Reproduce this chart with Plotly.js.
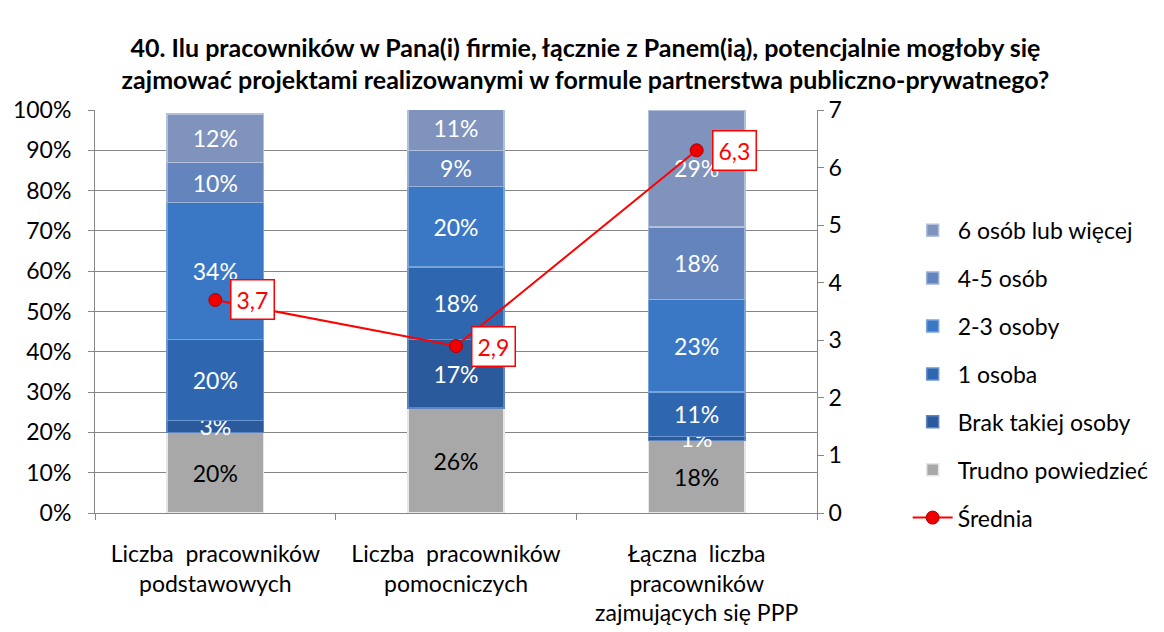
<!DOCTYPE html>
<html>
<head>
<meta charset="utf-8">
<script src="https://cdn.plot.ly/plotly-3.0.1.min.js"></script>
<style>html,body{margin:0;padding:0;background:#fff;}#chart{width:1164px;height:632px;}</style>
</head>
<body>
<div id="chart"></div>
<script>
const categories = ["Liczba  pracowników<br>podstawowych", "Liczba  pracowników<br>pomocniczych", "Łączna  liczba<br>pracowników<br>zajmujących się PPP"];
const seriesNames = ["Trudno powiedzieć", "Brak takiej osoby", "1 osoba", "2-3 osoby", "4-5 osób", "6 osób lub więcej"];
const trudno = [20, 26, 18];
const brak = [3, 17, 1];
const jedna = [20, 18, 11];
const dwieTrzy = [34, 20, 23];
const czteryPiec = [10, 9, 18];
const szescPlus = [12, 11, 29];
const srednia = [3.7, 2.9, 6.3];
const sredniaLabels = ["3,7", "2,9", "6,3"];

const seriesValues = [trudno, brak, jedna, dwieTrzy, czteryPiec, szescPlus];
const colors = ["#a8a8a8", "#2b5a9c", "#2f66b0", "#3a78c6", "#6384bd", "#8093bd"];
const lineColors = ["#e6e6e6", "#5d86c0", "#6a95d0", "#78a4dc", "#9ab2d8", "#b2c0dc"];
const textColors = ["#000000", "#ffffff", "#ffffff", "#ffffff", "#ffffff", "#ffffff"];

const FONT = "Lato, 'Open Sans', sans-serif";
const FS = 23;

const data = [];
seriesValues.forEach((vals, i) => {
  data.push({
    type: "bar",
    name: seriesNames[i],
    x: categories,
    y: vals,
    text: vals.map(v => v + "%"),
    textposition: "inside",
    insidetextanchor: "middle",
    constraintext: "none",
    textangle: 0,
    textfont: {family: FONT, size: FS, color: textColors[i]},
    marker: {color: colors[i], line: {color: lineColors[i], width: 1.5}},
    legendgroup: "g" + i,
    legendrank: 6 - i,
    hoverinfo: "skip"
  });
});
data.push({
  type: "scatter",
  mode: "lines+markers",
  name: "Średnia",
  x: categories,
  y: srednia,
  yaxis: "y2",
  line: {color: "#ff0000", width: 2},
  marker: {color: "#ee0000", size: 13, line: {color: "#b00000", width: 1}},
  legendgroup: "g7",
  legendrank: 7,
  hoverinfo: "skip"
});

const annotations = srednia.map((v, i) => ({
  x: categories[i],
  y: v,
  xref: "x",
  yref: "y2",
  text: sredniaLabels[i],
  showarrow: false,
  xanchor: "left",
  yanchor: "middle",
  xshift: 15,
  font: {family: FONT, size: FS, color: "#ff0000"},
  bgcolor: "#ffffff",
  bordercolor: "#ff0000",
  borderwidth: 1.5,
  borderpad: 5
}));

const layout = {
  width: 1164,
  height: 632,
  paper_bgcolor: "#ffffff",
  plot_bgcolor: "#ffffff",
  separators: ", ",
  font: {family: FONT, size: FS, color: "#000000"},
  title: {
    text: "<b>40. Ilu pracowników w Pana(i) firmie, łącznie z Panem(ią), potencjalnie mogłoby się<br>zajmować projektami realizowanymi w formule partnerstwa publiczno-prywatnego?</b>",
    x: 0.503,
    xanchor: "center",
    y: 0.91,
    yanchor: "top",
    font: {family: FONT, size: 25, color: "#000000"}
  },
  margin: {l: 95, r: 346, t: 110, b: 119},
  barmode: "stack",
  bargap: 0.6,
  showlegend: true,
  legend: {
    x: 1.124,
    xanchor: "left",
    xref: "paper",
    y: 0.755,
    yanchor: "top",
    traceorder: "grouped",
    tracegroupgap: 15,
    font: {family: FONT, size: FS, color: "#000000"},
    itemwidth: 40,
    bgcolor: "rgba(0,0,0,0)"
  },
  xaxis: {
    type: "category",
    tickson: "boundaries",
    ticks: "outside",
    ticklen: 6,
    tickcolor: "#868686",
    showline: true,
    linecolor: "#868686",
    linewidth: 1,
    ticklabelstandoff: 20,
    tickfont: {family: FONT, size: FS, color: "#000000"},
    showgrid: false
  },
  yaxis: {
    range: [0, 100],
    dtick: 10,
    ticksuffix: "%",
    ticks: "outside",
    ticklen: 6,
    tickcolor: "#868686",
    showline: true,
    linecolor: "#868686",
    showgrid: true,
    gridcolor: "#868686",
    gridwidth: 1,
    zeroline: false,
    ticklabelstandoff: 12,
    tickfont: {family: FONT, size: FS, color: "#000000"}
  },
  yaxis2: {
    range: [0, 7],
    dtick: 1,
    overlaying: "y",
    side: "right",
    ticks: "outside",
    ticklen: 6,
    tickcolor: "#868686",
    showline: true,
    linecolor: "#868686",
    showgrid: false,
    zeroline: false,
    tickfont: {family: FONT, size: FS, color: "#000000"}
  },
  annotations: annotations
};

Plotly.newPlot("chart", data, layout, {displayModeBar: false, staticPlot: true});
</script>
</body>
</html>
